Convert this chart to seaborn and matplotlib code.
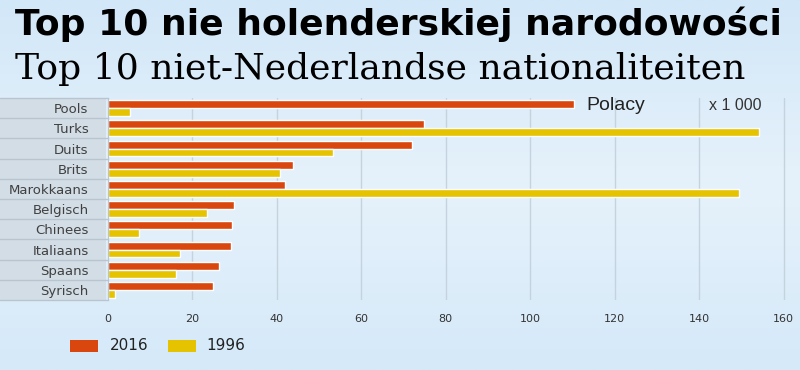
import numpy as np
import pandas as pd
import matplotlib
matplotlib.use("Agg")
import matplotlib.pyplot as plt
import seaborn as sns
from matplotlib.patches import Rectangle
from matplotlib.colors import LinearSegmentedColormap

# Data (x 1 000)
nationalities = ["Pools", "Turks", "Duits", "Brits", "Marokkaans",
                 "Belgisch", "Chinees", "Italiaans", "Spaans", "Syrisch"]
values_2016 = [110.4, 74.9, 72.0, 43.8, 41.9, 29.9, 29.4, 29.1, 26.3, 24.9]
values_1996 = [5.2, 154.3, 53.3, 40.8, 149.5, 23.5, 7.4, 17.1, 16.1, 1.7]
years = ["2016", "1996"]
tick_values = [0, 20, 40, 60, 80, 100, 120, 140, 160]

df = pd.DataFrame({
    "nationality": nationalities * 2,
    "value": values_2016 + values_1996,
    "year": [years[0]] * len(nationalities) + [years[1]] * len(nationalities),
})

sns.set_style("white")
bg = "#d6eaf9"
fig = plt.figure(figsize=(8, 3.7), dpi=100, facecolor=bg)

# soft vertical gradient behind everything
bg_ax = fig.add_axes([0, 0, 1, 1], zorder=-10)
grad = np.linspace(0, 1, 256).reshape(-1, 1)
cmap = LinearSegmentedColormap.from_list("bg", ["#d2e7f8", "#e6f2fb", "#d5e9f9"])
bg_ax.imshow(grad, aspect="auto", cmap=cmap, extent=[0, 1, 0, 1])
bg_ax.axis("off")

# label panel on the left
panel = Rectangle((0, 70 / 370), 106 / 800, 202 / 370,
                  transform=fig.transFigure, facecolor="#d3dde6",
                  edgecolor="none", zorder=-5)
fig.patches.append(panel)

ax = fig.add_axes([108 / 800, 70 / 370, 684 / 800, 202 / 370])
ax.set_facecolor("none")

palette = {"2016": "#d9470e", "1996": "#e6c300"}
sns.barplot(data=df, y="nationality", x="value", hue="year",
            hue_order=years, order=nationalities, palette=palette,
            orient="h", width=0.78, saturation=1, ax=ax, legend=False)

# separators between rows in the label panel
n = len(nationalities)
for i in range(n + 1):
    yv = i - 0.5
    ax.plot([-0.158, 0], [yv, yv], transform=ax.get_yaxis_transform(),
            color="#b8c4cf", linewidth=1, clip_on=False)

ax.set_ylim(n - 0.5, -0.5)
ax.set_xlim(0, 162)
ax.set_xticks(tick_values)
ax.xaxis.grid(True, color="#c5d3df", linewidth=1)
ax.set_axisbelow(True)
for s in ax.spines.values():
    s.set_visible(False)
ax.spines["left"].set_visible(True)
ax.spines["left"].set_color("#b8c4cf")
ax.set_xlabel("")
ax.set_ylabel("")
ax.tick_params(axis="x", length=0, labelsize=8, labelcolor="#333333", pad=10)
ax.tick_params(axis="y", length=0, labelsize=9.5, labelcolor="#404040", pad=14)

fig.text(15 / 800, 1 - 24 / 370, "Top 10 nie holenderskiej narodowości",
         fontsize=26, fontweight="bold", family="DejaVu Sans",
         va="center", ha="left", color="black")
fig.text(15 / 800, 1 - 69 / 370, "Top 10 niet-Nederlandse nationaliteiten",
         fontsize=26, family="DejaVu Serif",
         va="center", ha="left", color="black")

fig.text(586 / 800, 1 - 105 / 370, "Polacy", fontsize=14,
         family="Liberation Sans", va="center", ha="left", color="#222222")
fig.text(709 / 800, 1 - 106 / 370, "x 1 000", fontsize=11.5,
         family="Liberation Sans", va="center", ha="left", color="#333333")

# legend
fig.patches.append(Rectangle((70 / 800, 1 - 352 / 370), 28 / 800, 12 / 370,
                             transform=fig.transFigure,
                             facecolor=palette["2016"], edgecolor="none"))
fig.text(110 / 800, 1 - 346 / 370, "2016", fontsize=11,
         va="center", ha="left", color="#222222")
fig.patches.append(Rectangle((168 / 800, 1 - 352 / 370), 28 / 800, 12 / 370,
                             transform=fig.transFigure,
                             facecolor=palette["1996"], edgecolor="none"))
fig.text(206 / 800, 1 - 346 / 370, "1996", fontsize=11,
         va="center", ha="left", color="#222222")

fig.savefig("out.png", dpi=100, facecolor=bg)
